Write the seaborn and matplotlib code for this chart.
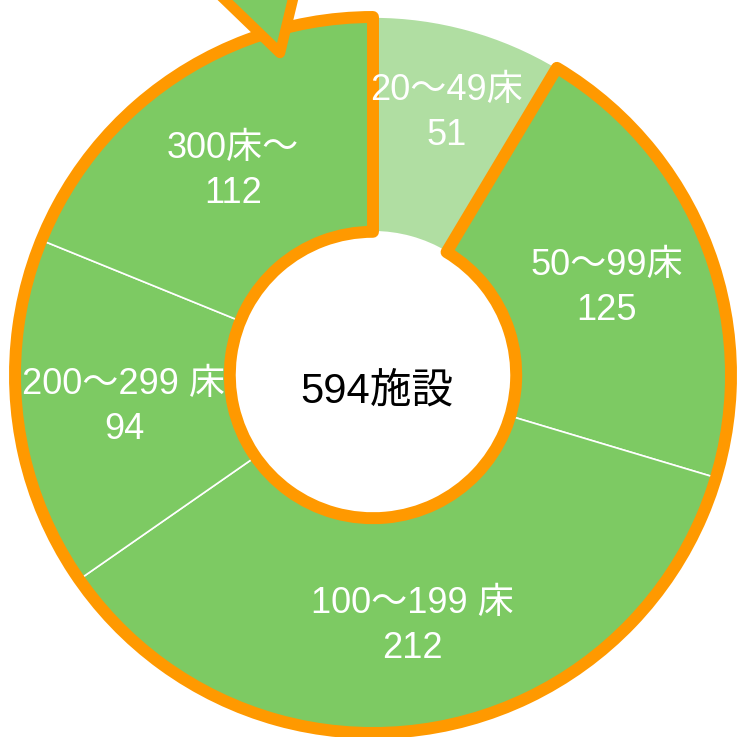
import numpy as np
import matplotlib
matplotlib.use("Agg")
import matplotlib.pyplot as plt
from matplotlib.patches import Wedge, Polygon
import seaborn as sns

# Facilities by bed count
categories = ["20～49床", "50～99床", "100～199 床", "200～299 床", "300床～"]
counts = [51, 125, 212, 94, 112]
center_label = "594施設"

sns.set_theme(style="white")
plt.rcParams["font.family"] = ["Liberation Sans", "Noto Sans CJK JP", "DejaVu Sans"]

GREEN = "#7DCA63"
LIGHT_GREEN = "#B0DEA2"
ORANGE = "#FF9900"
colors = [LIGHT_GREEN] + [GREEN] * (len(counts) - 1)

fig = plt.figure(figsize=(7.37, 7.37), dpi=100)
ax = fig.add_axes([0, 0, 1, 1])

inner = 0.40
wedges, _ = ax.pie(
    counts,
    colors=colors,
    startangle=90,
    counterclock=False,
    radius=1.0,
    wedgeprops=dict(width=1 - inner, edgecolor="white", linewidth=1.2),
)

# Thick orange outline around every segment except the first
first = wedges[0]
group_start = first.theta2          # 90 deg (top)
group_end = first.theta1 + 360      # end of the first segment, going around
outline = Wedge((0, 0), 1.0, group_start, group_end, width=1 - inner,
                facecolor="none", edgecolor=ORANGE, linewidth=8.6,
                joinstyle="round", zorder=3)
ax.add_patch(outline)

# Pointer marker above the top-left segment
pointer = Polygon([(194 / 737, 1 + 30 / 737), (280 / 737, 1 - 53 / 737),
                   (300 / 737, 1 + 30 / 737)], closed=True,
                  transform=ax.transAxes, facecolor=GREEN, edgecolor=ORANGE,
                  linewidth=7.5, joinstyle="round", zorder=4, clip_on=False)
ax.add_patch(pointer)

# Segment labels at the middle of each ring segment
for w, cat, val in zip(wedges, categories, counts):
    mid = np.deg2rad((w.theta1 + w.theta2) / 2)
    r = 0.77 if w is first else 0.70
    x, y = r * np.cos(mid), r * np.sin(mid)
    ax.annotate(cat, (x, y), xytext=(0, 13.5), textcoords="offset points",
                ha="center", va="center", color="white", fontsize=26, zorder=5)
    ax.annotate(str(val), (x, y), xytext=(0, -19), textcoords="offset points",
                ha="center", va="center", color="white", fontsize=26, zorder=5)

ax.text(0.01, -0.045, center_label, ha="center", va="center", color="black",
        fontsize=30, zorder=5)

R_px = 358.0
cx, cy = 373.0, 375.0
ax.set_xlim(-cx / R_px, (737 - cx) / R_px)
ax.set_ylim(-(737 - cy) / R_px, cy / R_px)
ax.set_aspect("equal")
ax.axis("off")

fig.savefig("out.png", dpi=100)
